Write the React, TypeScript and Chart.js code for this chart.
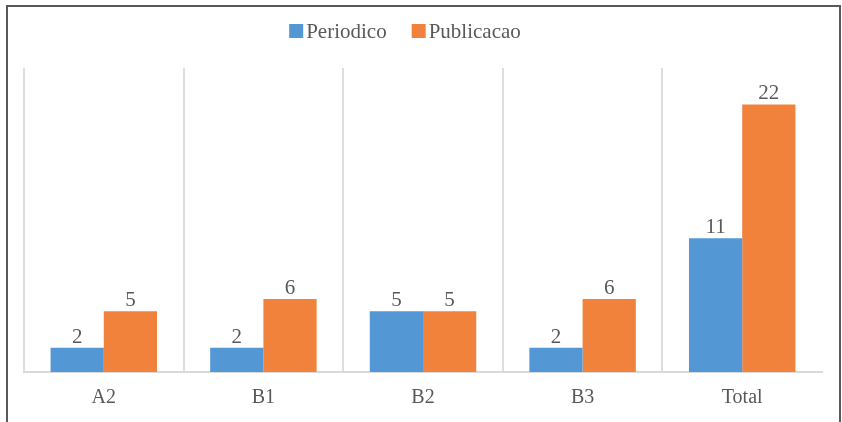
import React, { useEffect, useRef } from "react";
import { Chart, registerables } from "chart.js";

Chart.register(...registerables);

const categories = ["A2", "B1", "B2", "B3", "Total"];
const periodico = [2, 2, 5, 2, 11];
const publicacao = [5, 6, 5, 6, 22];
const seriesNames = ["Periodico", "Publicacao"];
const seriesColors = ["#5398D5", "#F0823C"];

const FONT = "'Liberation Serif', 'Times New Roman', serif";
const TEXT = "#595959";

const valueLabels = {
  id: "valueLabels",
  afterDatasetsDraw(chart: any) {
    const ctx = chart.ctx;
    ctx.save();
    ctx.font = `21px ${FONT}`;
    ctx.fillStyle = TEXT;
    ctx.textAlign = "center";
    ctx.textBaseline = "alphabetic";
    chart.data.datasets.forEach((ds: any, di: number) => {
      const meta = chart.getDatasetMeta(di);
      meta.data.forEach((bar: any, i: number) => {
        ctx.fillText(String(ds.data[i]), bar.x, bar.y - 5);
      });
    });
    ctx.restore();
  },
};

const customLegend = {
  id: "customLegend",
  afterDraw(chart: any) {
    const ctx = chart.ctx;
    ctx.save();
    ctx.font = `21px ${FONT}`;
    const box = 14;
    const gapText = 3;
    const gapItem = 25;
    const items = chart.data.datasets.map((ds: any) => ({
      label: ds.label,
      color: ds.backgroundColor,
      w: box + gapText + ctx.measureText(ds.label).width,
    }));
    const total = items.reduce((s: number, it: any) => s + it.w, 0) + gapItem * (items.length - 1);
    let x = 405 - total / 2;
    const cy = 31;
    items.forEach((it: any) => {
      ctx.fillStyle = it.color;
      ctx.fillRect(x, cy - box / 2, box, box);
      ctx.fillStyle = TEXT;
      ctx.textAlign = "left";
      ctx.textBaseline = "middle";
      ctx.fillText(it.label, x + box + gapText, cy + 1);
      x += it.w + gapItem;
    });
    ctx.restore();
  },
};

export default function App() {
  const ref = useRef<HTMLCanvasElement>(null);
  useEffect(() => {
    if (!ref.current) return;
    const chart = new Chart(ref.current, {
      type: "bar",
      data: {
        labels: categories,
        datasets: [
          { label: seriesNames[0], data: periodico, backgroundColor: seriesColors[0] },
          { label: seriesNames[1], data: publicacao, backgroundColor: seriesColors[1] },
        ],
      },
      options: {
        animation: false,
        responsive: false,
        maintainAspectRatio: false,
        layout: { padding: { left: 24, right: 20, top: 68, bottom: 0 } },
        datasets: { bar: { categoryPercentage: 0.667, barPercentage: 1 } },
        plugins: {
          legend: { display: false },
          tooltip: { enabled: false },
        },
        scales: {
          x: {
            afterFit: (s: any) => {
              s.height = 50;
            },
            grid: {
              offset: true,
              drawTicks: false,
              lineWidth: 2,
              color: (c: any) => (c.type === "tick" ? "#dedede" : "rgba(0,0,0,0)"),
            },
            border: { display: true, color: "#d9d9d9", width: 2 },
            ticks: { color: TEXT, font: { family: FONT, size: 20 }, padding: 14 },
          },
          y: {
            display: false,
            min: 0,
            max: 25,
          },
        },
      },
      plugins: [valueLabels, customLegend],
    });
    return () => chart.destroy();
  }, []);
  return (
    <div style={{ position: "fixed", left: 0, top: 0, width: 842, height: 422, background: "#fff", overflow: "hidden" }}>
      <canvas ref={ref} width={842} height={422} style={{ display: "block", width: 842, height: 422 }} />
      <div
        style={{
          position: "absolute",
          left: 6,
          top: 5,
          width: 831,
          height: 430,
          borderLeft: "2px solid #595959",
          borderRight: "2px solid #595959",
          borderTop: "2px solid #595959",
          pointerEvents: "none",
        }}
      />
    </div>
  );
}
